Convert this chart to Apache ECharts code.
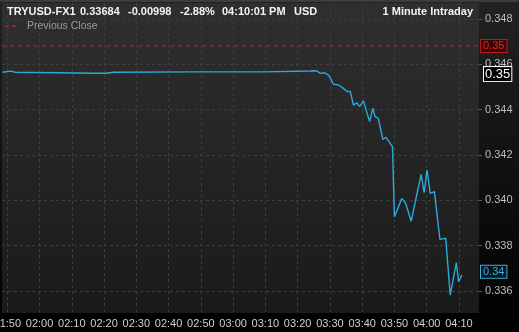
<!DOCTYPE html>
<html><head><meta charset="utf-8">
<script src="https://cdn.jsdelivr.net/npm/echarts@6/dist/echarts.min.js"></script>
<style>html,body{margin:0;padding:0;background:#000;}#c{width:519px;height:332px;}</style>
</head><body><div id="c"></div>
<script>
// ---- data ----
const times = ['01:48:30','01:51:00','01:52:30','02:17:30','02:20:30','02:23:00','02:48:24','03:10:00',
  '03:23:54','03:24:54','03:26:00','03:27:00','03:28:12','03:29:36','03:31:06','03:32:42','03:34:12',
  '03:35:24','03:36:18','03:37:18','03:38:24','03:39:12','03:40:24','03:42:18','03:43:18','03:44:00',
  '03:45:00','03:46:24','03:47:24','03:48:42','03:49:24','03:50:00','03:52:18','03:53:30','03:55:12',
  '03:56:54','03:58:18','03:59:12','04:00:06','04:01:06','04:02:24','04:04:06','04:05:54','04:07:18',
  '04:09:12','04:09:54','04:10:54'];
const prices = [0.34565,0.34570,0.34565,0.34561,0.34561,0.34565,0.34567,0.34567,
  0.34571,0.34572,0.34571,0.34560,0.34563,0.34553,0.34513,0.34509,0.34494,
  0.34479,0.34482,0.34420,0.34430,0.34413,0.34439,0.34347,0.34406,0.34369,
  0.34362,0.34269,0.34278,0.34251,0.34236,0.33927,0.34008,0.33986,0.33907,
  0.34023,0.34114,0.34033,0.34133,0.34030,0.34038,0.33827,0.33832,0.33581,
  0.33724,0.33640,0.33670];
const xTickLabels = ['01:50','02:00','02:10','02:20','02:30','02:40','02:50','03:00','03:10','03:20','03:30','03:40','03:50','04:00','04:10'];
const yTickValues = [0.336,0.338,0.340,0.342,0.344,0.346,0.348];
const previousClose = 0.34681;
const lastPrice = 0.33684;
const markerLevel = 0.34557;
const headerItems = ['TRYUSD-FX1','0.33684','-0.00998','-2.88%','04:10:01 PM','USD'];
const headerRight = '1 Minute Intraday';
const legendLabel = 'Previous Close';

// ---- build ----
function toMin(s){const p=s.split(':').map(Number);return p[0]*60+p[1]+(p[2]||0)/60;}
function fmt(m){const h=Math.floor(m/60),mm=Math.round(m-h*60);return String(h).padStart(2,'0')+':'+String(mm).padStart(2,'0');}
const seriesData = times.map((t,i)=>[toMin(t),prices[i]]);
const xTicks = xTickLabels.map(toMin);
const X_MIN = 108.36, X_MAX = 256.22;
const font = 'Liberation Sans, Arial, sans-serif';
const headerX = [7,80,128,180,222,294];
const gridCol = '#3e3e3e';

function levelSeries(v, lineStyle, lab){
  return {type:'line',data:[[X_MIN,v],[X_MAX,v]],showSymbol:false,symbol:'none',silent:true,z:3,
    lineStyle:lineStyle,
    endLabel:Object.assign({show:true,formatter:()=>v.toFixed(2),fontFamily:font,align:'left',verticalAlign:'middle'},lab)};
}

const chart = echarts.init(document.getElementById('c'), null, {renderer:'canvas'});
chart.setOption({
  animation:false,
  backgroundColor:{type:'linear',x:0,y:0,x2:0,y2:1,colorStops:[{offset:0,color:'#222'},{offset:1,color:'#000'}]},
  grid:{left:2,right:40,top:3,bottom:19,show:true,borderWidth:0,outerBoundsMode:'none',containLabel:false,
    backgroundColor:{type:'linear',x:0,y:0,x2:0,y2:1,colorStops:[{offset:0,color:'#2f2f2f'},{offset:1,color:'#1a1a1a'}]}},
  xAxis:{type:'value',min:X_MIN,max:X_MAX,
    axisLine:{show:false},
    axisTick:{show:false,customValues:xTicks},
    axisLabel:{customValues:xTicks,formatter:v=>fmt(v),color:'#d0d0d0',fontSize:11,fontFamily:font,margin:5},
    splitLine:{show:true,lineStyle:{color:gridCol,type:[3,3],width:1}}},
  yAxis:{type:'value',position:'right',min:0.33502,max:0.34871,
    axisLine:{show:false},
    axisTick:{show:true,length:3,customValues:yTickValues,lineStyle:{color:'#5a5a5a'}},
    axisLabel:{customValues:yTickValues,formatter:v=>v.toFixed(3),color:'#bdbdbd',fontSize:11,fontFamily:font,margin:6},
    splitLine:{show:true,lineStyle:{color:gridCol,type:[3,3],width:1}}},
  series:[
    levelSeries(previousClose,{color:'#c42828',type:[4,4],width:1},
      {distance:2,color:'#e02424',fontSize:11,backgroundColor:'#380808',borderColor:'#b81c1c',borderWidth:1,padding:[1,2,0,2]}),
    {type:'line',data:seriesData,showSymbol:false,symbol:'none',z:4,
      lineStyle:{color:'#2aaadd',width:1.4}},
    levelSeries(markerLevel,{color:'rgba(0,0,0,0)',width:1},
      {distance:5,color:'#ffffff',fontSize:13,backgroundColor:'#000',borderColor:'#ffffff',borderWidth:1,padding:[1,1,0,1]}),
    levelSeries(lastPrice,{color:'rgba(0,0,0,0)',width:1},
      {distance:2,color:'#3ab0e0',fontSize:11,backgroundColor:'#07141c',borderColor:'#3ab0e0',borderWidth:1,padding:[1,2,0,2]})
  ],
  graphic:[
    {type:'rect',left:0,top:0,shape:{width:519,height:2},style:{fill:'#3c3c3c'},z:1},
    ...headerItems.map((t,i)=>({type:'text',x:headerX[i],y:12,z:10,style:{text:t,fill:'#f2f2f2',font:'bold 11px '+font,textVerticalAlign:'middle'}})),
    {type:'text',x:473,y:12,z:10,style:{text:headerRight,fill:'#f2f2f2',font:'bold 11px '+font,textAlign:'right',textVerticalAlign:'middle'}},
    {type:'line',shape:{x1:5,y1:26,x2:16,y2:26},style:{stroke:'#d03030',lineWidth:1.2,lineDash:[4,3]},z:10},
    {type:'text',x:27,y:26,z:10,style:{text:legendLabel,fill:'#9a9a9a',font:'10.5px '+font,textVerticalAlign:'middle'}}
  ]
});
</script></body></html>
